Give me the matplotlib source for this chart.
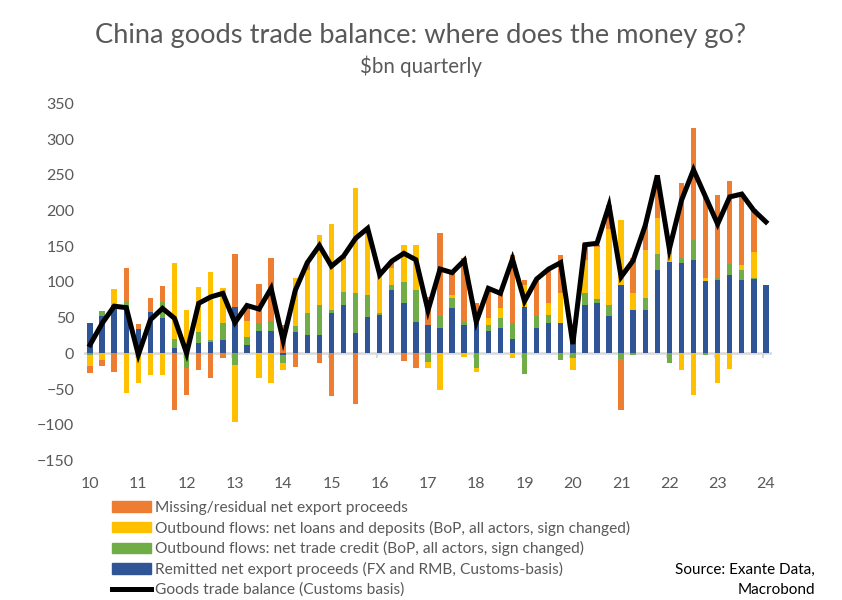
import numpy as np
import matplotlib
matplotlib.use("Agg")
import matplotlib.pyplot as plt
from matplotlib.patches import Patch
from matplotlib.lines import Line2D

plt.rcParams['font.family'] = ['Lato', 'DejaVu Sans']

# quarterly, 2010Q1 .. 2024Q1, $bn
remitted = [42, 52, 67, 65, 34, 58, 50, 8, 0, 14, 16, 19, 65, 12, 31, 31,
            -2, 30, 26, 25, 56, 68, 29, 51, 53, 89, 70, 44, 40, 35, 64, 40,
            43, 31, 35, 20, 65, 36, 42, 42, 36, 67, 70, 52, 95, 61, 60, 116,
            128, 126, 131, 101, 102, 109, 102, 104, 95]
trade_credit = [-3, 7, 0, 7, 0, 0, 22, 12, -20, 16, 3, 24, -16, 11, 11, 14,
                -12, 8, 30, 43, 4, 18, 55, 31, 4, 7, 30, 44, -12, 17, 13, 4,
                -21, 8, 15, 22, -29, 16, 12, -10, -7, 18, 6, 15, -8, -2, 17, 23,
                -14, 7, 27, -2, 3, 16, 14, 2, 0]
loans = [-15, -10, 23, -56, -41, -30, -30, 107, 61, 63, 95, 48, -80, 22, -35, -41,
         -9, 68, 61, 97, 121, 46, 147, 92, 52, 24, 51, 64, -9, -52, 4, -5,
         -5, 10, 13, -7, 31, 0, 16, 42, -16, 45, 73, 107, 92, 23, 67, 50,
         11, -23, -58, 5, -41, -22, 7, 36, 0]
missing = [-9, -8, -26, 47, 7, 20, 22, -79, -39, -23, -34, -7, 74, 20, 55, 88,
           40, -19, 10, -14, -60, 3, -71, 2, 0, 7, -11, -21, 39, 117, 31, 90,
           28, 43, 21, 96, 6, 52, 46, 53, 0, 23, 3, 34, -71, 50, 35, 60,
           5, 106, 157, 112, 116, 116, 100, 60, 0]
trade_balance = [12, 42, 66, 64, -2, 47, 63, 49, 0, 70, 79, 84, 43, 67, 62, 91,
                 18, 88, 127, 151, 122, 136, 161, 175, 110, 129, 140, 131, 60, 118, 113, 130,
                 44, 91, 84, 132, 73, 104, 118, 127, 13, 152, 154, 207, 107, 130, 179, 249,
                 146, 214, 257, 219, 181, 219, 223, 200, 184]
year_labels = ["10", "11", "12", "13", "14", "15", "16", "17", "18", "19",
               "20", "21", "22", "23", "24"]

series = [
    (remitted, '#2F5597', 'Remitted net export proceeds (FX and RMB, Customs-basis)'),
    (trade_credit, '#70AD47', 'Outbound flows: net trade credit (BoP, all actors, sign changed)'),
    (loans, '#FFC000', 'Outbound flows: net loans and deposits (BoP, all actors, sign changed)'),
    (missing, '#ED7D31', 'Missing/residual net export proceeds'),
]

grey = '#595959'
x = np.arange(len(remitted))

fig = plt.figure(figsize=(8.42, 6.0), dpi=100)
ax = fig.add_axes([0.0998, 0.2325, 0.817, 0.5953])

# excel-style stacking: positives go up from zero, negatives go down
pos_base = np.zeros(len(x))
neg_base = np.zeros(len(x))
for vals, col, lab in series:
    v = np.array(vals, dtype=float)
    base = np.where(v >= 0, pos_base, neg_base)
    ax.bar(x, v, 0.45, bottom=base, color=col, linewidth=0, zorder=2)
    pos_base += np.clip(v, 0, None)
    neg_base += np.clip(v, None, 0)

ax.axhline(0, color='#D9D9D9', lw=1.8, zorder=1)
tick_pos = x[::4]
ax.vlines(tick_pos - 0.2, -7, 0, color='#D9D9D9', lw=1.5, zorder=1)

ax.plot(x, trade_balance, color='black', lw=3.6, solid_joinstyle='miter', zorder=3)

ax.set_xlim(-0.5, len(x) - 0.5)
ax.set_ylim(-150, 350)
ax.set_yticks(np.arange(-150, 351, 50))
ax.set_xticks(tick_pos)
ax.set_xticklabels(year_labels)
ax.tick_params(axis='both', length=0, labelsize=11.5, colors=grey)
ax.tick_params(axis='y', pad=7)
ax.tick_params(axis='x', pad=12)
for s in ax.spines.values():
    s.set_visible(False)

fig.text(0.5, 0.94, 'China goods trade balance: where does the money go?',
         ha='center', va='center', fontsize=19.6, color=grey)
fig.text(0.5, 0.89, '$bn quarterly', ha='center', va='center', fontsize=14.8, color=grey)

handles = [Patch(color=c, label=l) for v, c, l in series[::-1]]
handles.append(Line2D([0], [0], color='black', lw=3.6, label='Goods trade balance (Customs basis)'))
leg = fig.legend(handles=handles, loc='upper left', bbox_to_anchor=(0.1328, 1 - 501 / 600),
                 frameon=False, fontsize=11.2, handlelength=2.5, handleheight=0.65,
                 handletextpad=0.3, labelspacing=0.36, borderaxespad=0, borderpad=0)
for t in leg.get_texts():
    t.set_color(grey)

fig.text(0.968, 1 - 570 / 600, 'Source: Exante Data,', ha='right', va='center', fontsize=11, color='black')
fig.text(0.968, 1 - 590 / 600, 'Macrobond', ha='right', va='center', fontsize=11, color='black')

fig.savefig('out.png', dpi=100)
